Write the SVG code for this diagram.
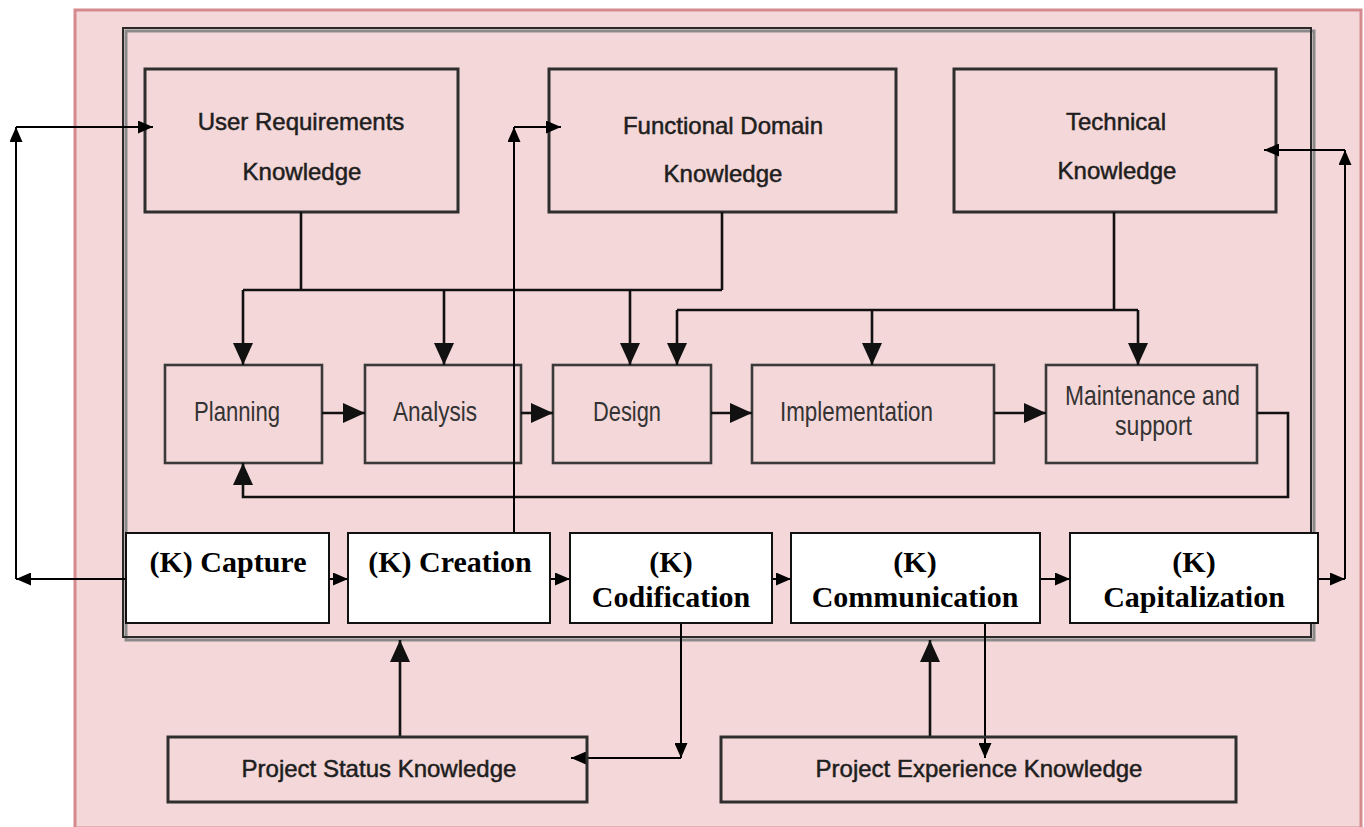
<svg xmlns="http://www.w3.org/2000/svg" width="1364" height="827" viewBox="0 0 1364 827">
<defs>
<style>
.kb{fill:none;stroke:#2e2e2e;stroke-width:3}
.pb{fill:none;stroke:#3a3a3a;stroke-width:2.6}
.kr{fill:#fff;stroke:#111;stroke-width:2}
.c{fill:none;stroke:#111;stroke-width:2.6}
.cs{fill:none;stroke:#000;stroke-width:2}
.kt{font-family:"Liberation Sans",Arial,sans-serif;font-size:24px;fill:#1e1e1e;stroke:#1e1e1e;stroke-width:0.5;text-anchor:middle}
.pt{font-family:"Liberation Sans",Arial,sans-serif;font-size:28px;fill:#333}
.rt{font-family:"Liberation Serif","Times New Roman",serif;font-size:30px;font-weight:bold;fill:#000;text-anchor:middle}
</style>
<marker id="ab" markerUnits="userSpaceOnUse" markerWidth="22" markerHeight="20" refX="22" refY="10" orient="auto" viewBox="0 0 22 20"><path d="M0,0 L22,10 L0,20 z" fill="#111"/></marker>
<marker id="as" markerUnits="userSpaceOnUse" markerWidth="15" markerHeight="13" refX="15" refY="6.5" orient="auto" viewBox="0 0 15 13"><path d="M0,0 L15,6.5 L0,13 z" fill="#000"/></marker>
</defs>
<rect x="0" y="0" width="1364" height="827" fill="#fff"/>
<rect id="outer" x="75" y="10" width="1286" height="818" fill="#f4d7d8" stroke="#d58a8d" stroke-width="3"/>
<g id="inner">
<rect x="126" y="31" width="1188" height="609" fill="none" stroke="#8a8a8a" stroke-width="3"/>
<rect x="123" y="28" width="1188" height="609" fill="none" stroke="#2a2a2a" stroke-width="2"/>
</g>
<g id="user-req">
<rect class="kb" x="145" y="69" width="313" height="143"/>
<text class="kt" x="301" y="130">User Requirements</text>
<text class="kt" x="302" y="180">Knowledge</text>
</g>
<g id="functional">
<rect class="kb" x="549" y="69" width="347" height="143"/>
<text class="kt" x="723" y="134">Functional Domain</text>
<text class="kt" x="723" y="182">Knowledge</text>
</g>
<g id="technical">
<rect class="kb" x="954" y="69" width="322" height="143"/>
<text class="kt" x="1116" y="130">Technical</text>
<text class="kt" x="1117" y="179">Knowledge</text>
</g>
<g id="planning">
<rect class="pb" x="165" y="365" width="157" height="98"/>
<text class="pt" x="194" y="421" textLength="86" lengthAdjust="spacingAndGlyphs">Planning</text>
</g>
<g id="analysis">
<rect class="pb" x="365" y="365" width="156" height="98"/>
<text class="pt" x="393" y="421" textLength="84" lengthAdjust="spacingAndGlyphs">Analysis</text>
</g>
<g id="design">
<rect class="pb" x="553" y="365" width="158" height="98"/>
<text class="pt" x="593" y="421" textLength="68" lengthAdjust="spacingAndGlyphs">Design</text>
</g>
<g id="implementation">
<rect class="pb" x="752" y="365" width="242" height="98"/>
<text class="pt" x="780" y="421" textLength="153" lengthAdjust="spacingAndGlyphs">Implementation</text>
</g>
<g id="maintenance">
<rect class="pb" x="1046" y="365" width="211" height="98"/>
<text class="pt" x="1065" y="405" textLength="175" lengthAdjust="spacingAndGlyphs">Maintenance and</text>
<text class="pt" x="1115" y="435" textLength="77" lengthAdjust="spacingAndGlyphs">support</text>
</g>
<g id="connectors">
<path class="c" d="M301,212 V290 M722,212 V290 M243,290 H722"/>
<path class="c" d="M243,290 V365" marker-end="url(#ab)"/>
<path class="c" d="M444,290 V365" marker-end="url(#ab)"/>
<path class="c" d="M630,290 V365" marker-end="url(#ab)"/>
<path class="c" d="M1114,212 V310 M677,310 H1138"/>
<path class="c" d="M677,310 V365" marker-end="url(#ab)"/>
<path class="c" d="M872,310 V365" marker-end="url(#ab)"/>
<path class="c" d="M1138,310 V365" marker-end="url(#ab)"/>
<path class="c" d="M322,413 H365" marker-end="url(#ab)"/>
<path class="c" d="M521,413 H553" marker-end="url(#ab)"/>
<path class="c" d="M711,413 H752" marker-end="url(#ab)"/>
<path class="c" d="M994,413 H1046" marker-end="url(#ab)"/>
<path class="c" d="M1257,413 H1288 V497 H243 V463" marker-end="url(#ab)"/>
<path class="cs" d="M320,579 H348" marker-end="url(#as)"/>
<path class="cs" d="M541,579 H570" marker-end="url(#as)"/>
<path class="cs" d="M763,579 H791" marker-end="url(#as)"/>
<path class="cs" d="M1040,579 H1070" marker-end="url(#as)"/>
<path class="cs" d="M1290,579 H1345" marker-end="url(#as)"/>
<path class="cs" d="M126,579 H16" marker-end="url(#as)"/>
<path class="cs" d="M16,579 V127" marker-end="url(#as)"/>
<path class="cs" d="M16,127 H153" marker-end="url(#as)"/>
<path class="cs" d="M514,533 V127" marker-end="url(#as)"/>
<path class="cs" d="M514,127 H561" marker-end="url(#as)"/>
<path class="cs" d="M1345,579 V150" marker-end="url(#as)"/>
<path class="cs" d="M1345,150 H1264" marker-end="url(#as)"/>
<path class="cs" d="M681,623 V758" marker-end="url(#as)"/>
<path class="cs" d="M681,758 H571" marker-end="url(#as)"/>
<path class="cs" d="M985,623 V758" marker-end="url(#as)"/>
<path class="c" d="M400,737 V640" marker-end="url(#ab)"/>
<path class="c" d="M930,737 V640" marker-end="url(#ab)"/>
</g>
<g id="capture">
<rect class="kr" x="126" y="533" width="203" height="90"/>
<text class="rt" x="228" y="572">(K) Capture</text>
</g>
<g id="creation">
<rect class="kr" x="348" y="533" width="202" height="90"/>
<text class="rt" x="450" y="572">(K) Creation</text>
</g>
<g id="codification">
<rect class="kr" x="570" y="533" width="202" height="90"/>
<text class="rt" x="671" y="572">(K)</text>
<text class="rt" x="671" y="607">Codification</text>
</g>
<g id="communication">
<rect class="kr" x="791" y="533" width="249" height="90"/>
<text class="rt" x="915" y="572">(K)</text>
<text class="rt" x="915" y="607">Communication</text>
</g>
<g id="capitalization">
<rect class="kr" x="1070" y="533" width="248" height="90"/>
<text class="rt" x="1194" y="572">(K)</text>
<text class="rt" x="1194" y="607">Capitalization</text>
</g>
<g id="project-status">
<rect class="kb" x="168" y="737" width="419" height="65"/>
<text class="kt" x="379" y="777">Project Status Knowledge</text>
</g>
<g id="project-experience">
<rect class="kb" x="721" y="737" width="515" height="65"/>
<text class="kt" x="979" y="777">Project Experience Knowledge</text>
</g>
</svg>
